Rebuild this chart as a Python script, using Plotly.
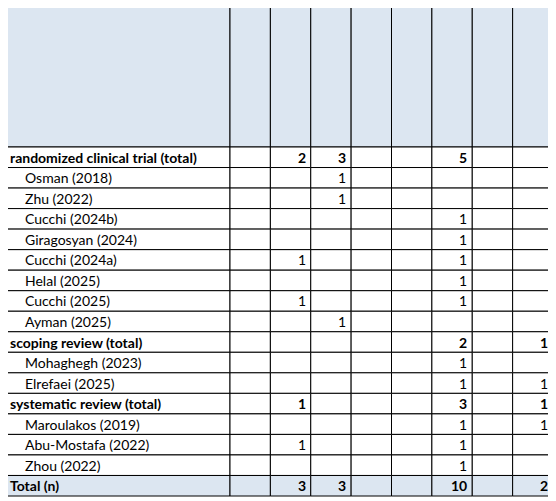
import plotly.graph_objects as go

columns = ["anatomical model (n)", "bending guide (n)", "surgical guide (n)", "splint (n)",
           "implant (n)", "scaffold (n)", "prosthetic (n)", "other (n)"]
row_labels = ["randomized clinical trial (total)", "Osman (2018)", "Zhu (2022)", "Cucchi (2024b)",
              "Giragosyan (2024)", "Cucchi (2024a)", "Helal (2025)", "Cucchi (2025)", "Ayman (2025)",
              "scoping review (total)", "Mohaghegh (2023)", "Elrefaei (2025)",
              "systematic review (total)", "Maroulakos (2019)", "Abu-Mostafa (2022)", "Zhou (2022)",
              "Total (n)"]
row_bold = [True, False, False, False, False, False, False, False, False,
            True, False, False, True, False, False, False, True]
N = None
values = [
    [N, 2, 3, N, N, 5, N, N],
    [N, N, 1, N, N, N, N, N],
    [N, N, 1, N, N, N, N, N],
    [N, N, N, N, N, 1, N, N],
    [N, N, N, N, N, 1, N, N],
    [N, 1, N, N, N, 1, N, N],
    [N, N, N, N, N, 1, N, N],
    [N, 1, N, N, N, 1, N, N],
    [N, N, 1, N, N, N, N, N],
    [N, N, N, N, N, 2, N, 1],
    [N, N, N, N, N, 1, N, N],
    [N, N, N, N, N, 1, N, 1],
    [N, 1, N, N, N, 3, N, 1],
    [N, N, N, N, N, 1, N, 1],
    [N, 1, N, N, N, 1, N, N],
    [N, N, N, N, N, 1, N, N],
    [N, 3, 3, N, N, 10, N, 2],
]

W, H = 556, 501
OFF = 8  # page body margin compensation
x0, x1 = 5, 553
first_w = 225
col_w = (x1 - x0 - first_w) / len(columns)
top, head_b, bottom = 4, 147, 496
row_h = (bottom - head_b) / len(row_labels)
fill = "#dce6f1"
font = "Lato"
fs = 14

shapes, ann = [], []
def rect(a, b, c, d, f="white"):
    shapes.append(dict(type="rect", x0=a, x1=b, y0=c, y1=d, fillcolor=f,
                       line=dict(color="black", width=1), layer="below"))

rect(x0, x0 + first_w, top, head_b, fill)
for j, c in enumerate(columns):
    a = x0 + first_w + j * col_w
    rect(a, a + col_w, top, head_b, fill)
    ann.append(dict(x=a + col_w / 2, y=top + 2, text=c, textangle=-90, showarrow=False,
                    xanchor="center", yanchor="top", font=dict(family=font, size=fs, color="black")))
for i, lab in enumerate(row_labels):
    yt = head_b + i * row_h
    f = fill if lab.startswith("Total") else "white"
    rect(x0, x0 + first_w, yt, yt + row_h, f)
    indent = 0 if row_bold[i] else 15
    t = f"<b>{lab}</b>" if row_bold[i] else lab
    ann.append(dict(x=x0 + 3 + indent, y=yt + row_h / 2, text=t, showarrow=False,
                    xanchor="left", yanchor="middle", font=dict(family=font, size=fs, color="black")))
    for j in range(len(columns)):
        a = x0 + first_w + j * col_w
        rect(a, a + col_w, yt, yt + row_h, f)
        v = values[i][j]
        if v is not None:
            t = f"<b>{v}</b>" if row_bold[i] else str(v)
            ann.append(dict(x=a + col_w - 3, y=yt + row_h / 2, text=t, showarrow=False,
                            xanchor="right", yanchor="middle", font=dict(family=font, size=fs, color="black")))

fig = go.Figure()
fig.update_layout(width=W, height=H, margin=dict(l=0, r=0, t=0, b=0),
                  plot_bgcolor="white", paper_bgcolor="white",
                  xaxis=dict(range=[OFF, W + OFF], visible=False, fixedrange=True),
                  yaxis=dict(range=[H + OFF, OFF], visible=False, fixedrange=True),
                  shapes=shapes, annotations=ann, showlegend=False)
fig.write_html("out.html")
